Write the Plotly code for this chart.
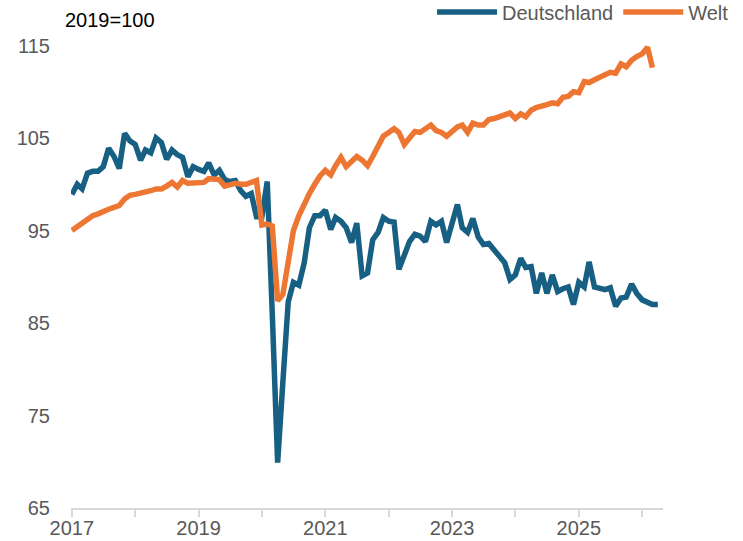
import pandas as pd
import plotly.graph_objects as go

# Monthly index values, 2019 = 100
deutschland = [
    98.9, 100.0, 99.5, 101.2, 101.4, 101.4, 101.9, 103.9, 103.0, 101.7, 105.5, 104.7,
    104.3, 102.6, 103.7, 103.4, 105.0, 104.5, 102.7, 103.7, 103.2, 102.9, 100.8, 101.9,
    101.6, 101.4, 102.3, 101.0, 101.5, 100.5, 100.3, 100.4, 99.3, 98.7, 99.0, 96.5,
    96.5, 100.3, 86.0, 69.9, 78.6, 87.3, 89.4, 89.1, 91.5, 95.3, 96.6, 96.6,
    97.2, 95.1, 96.4, 96.0, 95.3, 93.7, 95.8, 90.1, 90.4, 94.0, 94.8, 96.4,
    96.0, 95.9, 90.8, 92.2, 93.8, 94.6, 94.4, 93.8, 96.0, 95.6, 96.0, 93.7,
    95.8, 97.8, 95.3, 94.8, 96.3, 94.3, 93.5, 93.6, 92.9, 92.2, 91.5, 89.7,
    90.2, 92.0, 91.0, 91.1, 88.2, 90.4, 88.2, 90.2, 88.4, 88.7, 88.9, 87.0,
    89.4, 88.9, 91.6, 88.9, 88.8, 88.6, 88.8, 86.8, 87.7, 87.8, 89.2, 88.2,
    87.5, 87.3, 87.0, 87.0,
]
welt = [
    95.0, 95.4, 95.8, 96.3, 96.6, 96.8, 97.1, 97.3, 97.5, 97.7, 98.4, 98.8,
    98.9, 99.0, 99.2, 99.3, 99.5, 99.5, 99.8, 100.2, 99.7, 100.4, 100.1, 100.1,
    100.1, 100.2, 100.6, 100.6, 100.5, 99.8, 100.0, 100.1, 100.0, 100.0, 100.2, 100.4,
    95.6, 95.7, 95.5, 87.4, 88.1, 91.5, 95.0, 96.6, 98.0, 99.0, 100.0, 100.9,
    101.5, 101.0, 102.0, 102.9, 101.9, 102.5, 103.0, 102.6, 102.0, 103.0, 104.1, 105.2,
    105.6, 106.0, 105.6, 104.3, 105.0, 105.7, 105.6, 106.0, 106.4, 105.8, 105.6, 105.2,
    105.7, 106.2, 106.4, 105.6, 106.6, 106.4, 106.4, 107.0, 107.1, 107.3, 107.6, 107.7,
    107.1, 107.6, 107.3, 108.0, 108.3, 108.4, 108.6, 108.8, 108.7, 109.4, 109.5, 110.0,
    109.9, 111.1, 111.0, 111.3, 111.6, 111.9, 112.1, 112.0, 113.0, 112.7, 113.4, 113.8,
    114.1, 114.8, 112.6,
]
start_month = "2017-01-01"
tick_years = list(range(2017, 2027))
tick_labels = [str(y) if (y - 2017) % 2 == 0 else "" for y in tick_years]
y_ticks = [65, 75, 85, 95, 105, 115]

dates_de = pd.date_range(start_month, periods=len(deutschland), freq="MS")
dates_w = pd.date_range(start_month, periods=len(welt), freq="MS")

BLUE = "#176083"
ORANGE = "#EE7633"
GRAY = "#595959"
FONT = "Arial, Liberation Sans, sans-serif"

fig = go.Figure()
fig.add_trace(go.Scatter(x=dates_de, y=deutschland, mode="lines", name="Deutschland",
                         line=dict(color=BLUE, width=5.5)))
fig.add_trace(go.Scatter(x=dates_w, y=welt, mode="lines", name="Welt",
                         line=dict(color=ORANGE, width=5.5)))

fig.update_layout(
    width=743, height=541,
    margin=dict(l=71, r=80, t=27, b=33, autoexpand=False),
    plot_bgcolor="white", paper_bgcolor="white",
    font=dict(family=FONT, size=20, color=GRAY),
    showlegend=True,
    legend=dict(orientation="h", x=1.12, xanchor="right", y=1.031, yanchor="middle",
                font=dict(size=20, color=GRAY), itemwidth=60,
                bgcolor="rgba(0,0,0,0)", traceorder="normal"),
    annotations=[dict(text="2019=100", xref="paper", yref="paper", x=-0.0135, y=1.015,
                      xanchor="left", yanchor="middle", showarrow=False,
                      font=dict(size=20, color="black", family=FONT))],
)
fig.update_xaxes(
    range=["2016-12-27", "2026-05-01"],
    tickvals=[pd.Timestamp(f"{y}-01-01") for y in tick_years],
    ticktext=tick_labels,
    ticks="outside", ticklen=7, tickwidth=2, tickcolor="#D9D9D9",
    ticklabelstandoff=-6,
    showline=True, linecolor="#D9D9D9", linewidth=2,
    showgrid=False, zeroline=False,
    tickfont=dict(size=20, color=GRAY),
)
fig.update_yaxes(
    range=[65, 117],
    tickvals=y_ticks,
    ticks="outside", ticklen=16, tickcolor="rgba(0,0,0,0)",
    showline=False, showgrid=False, zeroline=False,
    tickfont=dict(size=20, color=GRAY),
)

# remove the default 8px page margin so the 743x541 figure fills the window exactly
fig.write_html("out.html", config={"displayModeBar": False},
               post_script="document.body.style.margin='0';")
